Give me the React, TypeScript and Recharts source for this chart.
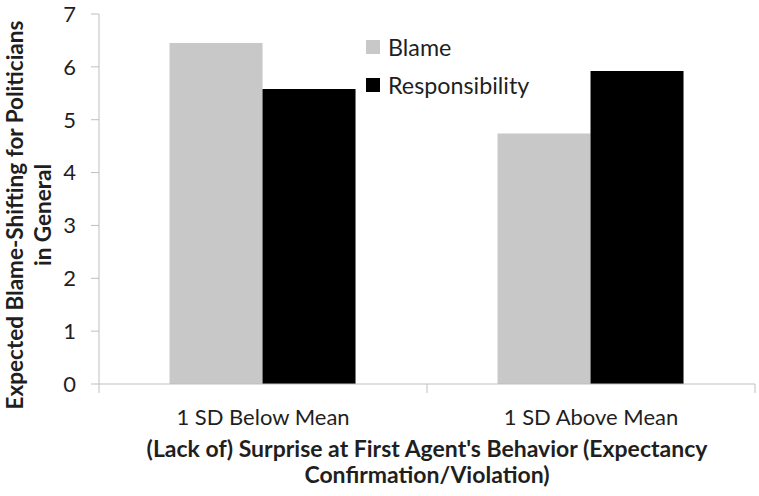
import React from 'react';
import { BarChart, Bar, XAxis, YAxis, Legend } from 'recharts';

const categories = ['1 SD Below Mean', '1 SD Above Mean'];
const blame = [6.45, 4.74];
const responsibility = [5.58, 5.92];
const pValues = ['= .002', '< .001'];
const yTicks = [0, 1, 2, 3, 4, 5, 6, 7];

const data = categories.map((name, i) => ({
  name,
  blame: blame[i],
  responsibility: responsibility[i],
  p: pValues[i],
}));

const FONT = 'Lato, "Open Sans", sans-serif';
const AXIS = '#bfbfbf';
const TEXT = '#1f1f1f';

const W = 759;
const H = 496;
const M = { top: 14, right: 4, bottom: 0, left: 0 };
const Y_WIDTH = 99;
const X_HEIGHT = 112;
const X_TICK = 9;
const X_MARGIN = 16;
const BAND = (W - M.left - M.right - Y_WIDTH) / categories.length;

// category label with Excel-style boundary ticks
const CatTick = (props: any) => {
  const { x, y, payload, index } = props;
  const axisY = y - X_TICK - X_MARGIN;
  return (
    <g>
      <line x1={x - BAND / 2} x2={x - BAND / 2} y1={axisY} y2={axisY + X_TICK} stroke={AXIS} />
      {index === categories.length - 1 && (
        <line x1={x + BAND / 2} x2={x + BAND / 2} y1={axisY} y2={axisY + X_TICK} stroke={AXIS} />
      )}
      <text x={x} y={y} dy="0.71em" textAnchor="middle" fontSize={22} fontFamily={FONT} fill={TEXT}>
        {payload.value}
      </text>
    </g>
  );
};

const PTick = (props: any) => {
  const { x, payload } = props;
  return (
    <text x={x + 5} y={30} textAnchor="middle" fontSize={19} fontFamily={FONT} fill={TEXT}>
      <tspan fontStyle="italic">p</tspan> {payload.value}
    </text>
  );
};

const XTitle = (props: any) => {
  const vb = props.viewBox || {};
  const cx = vb.x + vb.width / 2;
  return (
    <text textAnchor="middle" fontSize={23} fontWeight="bold" fontFamily={FONT} fill={TEXT}>
      <tspan x={cx} y={457}>(Lack of) Surprise at First Agent's Behavior (Expectancy</tspan>
      <tspan x={cx} y={483}>Confirmation/Violation)</tspan>
    </text>
  );
};

const YTitle = () => {
  const cy = 215;
  return (
    <text transform={`translate(0, ${cy}) rotate(-90)`} textAnchor="middle" fontSize={22.5} fontWeight="bold" fontFamily={FONT} fill={TEXT}>
      <tspan x={0} y={23}>Expected Blame-Shifting for Politicians</tspan>
      <tspan x={0} y={51}>in General</tspan>
    </text>
  );
};

const renderLegend = (props: any) => {
  const { payload = [] } = props;
  return (
    <div style={{ fontFamily: FONT }}>
      {payload.map((entry: any) => (
        <div key={entry.value} style={{ display: 'flex', alignItems: 'center', height: 38 }}>
          <span style={{ width: 14, height: 14, background: entry.color, display: 'inline-block', marginRight: 8 }} />
          <span style={{ fontSize: 23.3, color: TEXT }}>{entry.value}</span>
        </div>
      ))}
    </div>
  );
};

export default function App() {
  return (
    <div style={{ position: 'absolute', left: 0, top: 0, background: '#fff' }}>
      <BarChart width={W} height={H} data={data} margin={M} barCategoryGap="21.5%" barGap={0}>
        <XAxis
          dataKey="name"
          height={X_HEIGHT}
          interval={0}
          tickSize={X_TICK}
          tickMargin={X_MARGIN}
          tickLine={false}
          axisLine={{ stroke: AXIS }}
          tick={<CatTick />}
          label={<XTitle />}
        />
        <XAxis
          xAxisId="p"
          dataKey="p"
          orientation="top"
          height={0}
          interval={0}
          tickLine={false}
          axisLine={false}
          tick={<PTick />}
        />
        <YAxis
          domain={[0, 7]}
          ticks={yTicks}
          interval={0}
          width={Y_WIDTH}
          tickSize={8}
          tickMargin={15}
          axisLine={{ stroke: AXIS }}
          tickLine={{ stroke: AXIS }}
          tick={{ fontSize: 22, fontFamily: FONT, fill: TEXT }}
          label={<YTitle />}
        />
        <Legend
          layout="vertical"
          align="center"
          verticalAlign="middle"
          wrapperStyle={{ left: 366, top: 28, width: 200, height: 80 }}
          content={renderLegend}
        />
        <Bar dataKey="blame" name="Blame" fill="#c8c8c8" isAnimationActive={false} />
        <Bar dataKey="responsibility" name="Responsibility" fill="#000000" isAnimationActive={false} />
      </BarChart>
    </div>
  );
}
